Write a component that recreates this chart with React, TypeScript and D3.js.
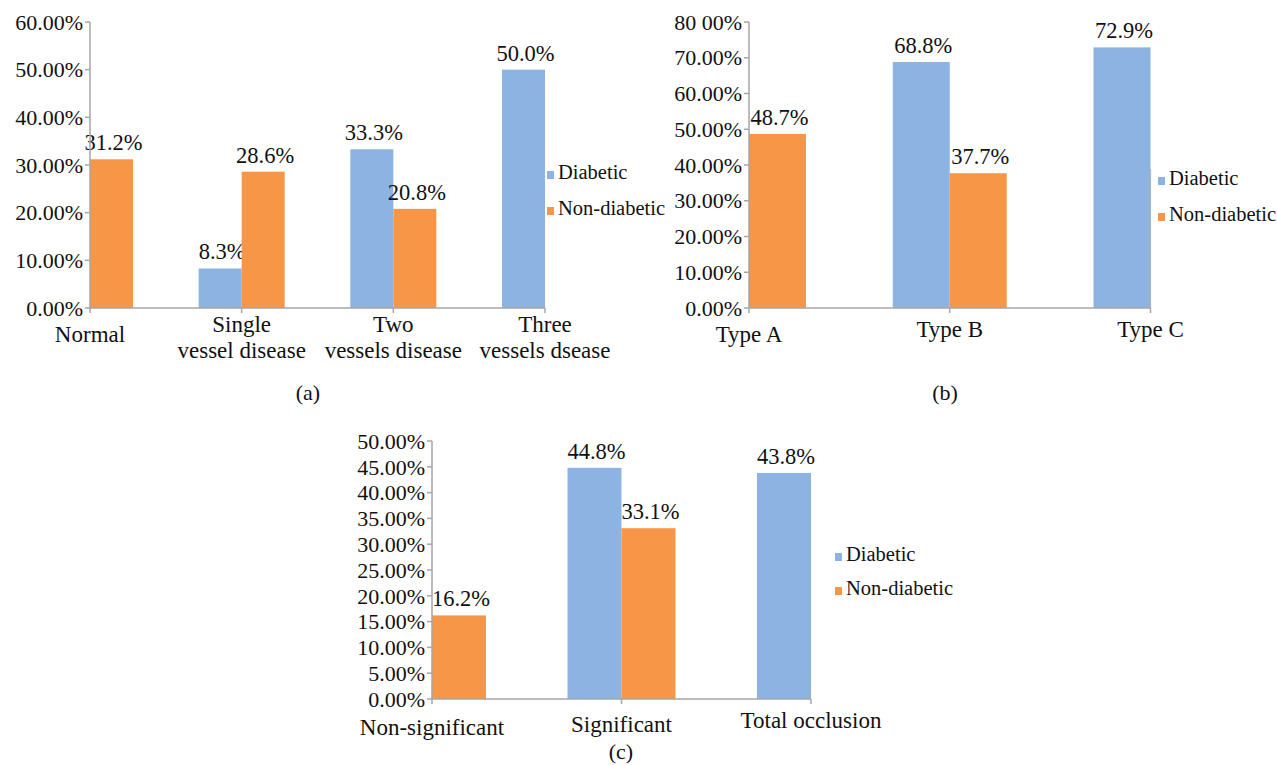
import * as d3 from "d3";

// Panel (a): coronary vessel involvement
const aCategories = [["Normal"], ["Single", "vessel disease"], ["Two", "vessels disease"], ["Three", "vessels dsease"]];
const aDiabetic = [0, 8.3, 33.3, 50.0];
const aNonDiabetic = [31.2, 28.6, 20.8, 0];
const aTickValues = [0, 10, 20, 30, 40, 50, 60];
const aTickLabels = ["0.00%", "10.00%", "20.00%", "30.00%", "40.00%", "50.00%", "60.00%"];

// Panel (b): lesion type
const bCategories = [["Type A"], ["Type B"], ["Type C"]];
const bDiabetic = [0, 68.8, 72.9];
const bNonDiabetic = [48.7, 37.7, 0];
const bTickValues = [0, 10, 20, 30, 40, 50, 60, 70, 80];
const bTickLabels = ["0.00%", "10.00%", "20.00%", "30.00%", "40.00%", "50.00%", "60.00%", "70.00%", "80 00%"];

// Panel (c): stenosis severity
const cCategories = [["Non-significant"], ["Significant"], ["Total occlusion"]];
const cDiabetic = [0, 44.8, 43.8];
const cNonDiabetic = [16.2, 33.1, 0];
const cTickValues = [0, 5, 10, 15, 20, 25, 30, 35, 40, 45, 50];
const cTickLabels = ["0.00%", "5.00%", "10.00%", "15.00%", "20.00%", "25.00%", "30.00%", "35.00%", "40.00%", "45.00%", "50.00%"];

const seriesNames = ["Diabetic", "Non-diabetic"];
const BLUE = "#8db3e2";
const ORANGE = "#f79646";
const AXIS = "#a6a6a6";
const FONT = "Liberation Serif";
const txt = { fontFamily: FONT, fill: "#111" };

interface PanelProps {
  categories: string[][];
  diabetic: number[];
  nonDiabetic: number[];
  tickValues: number[];
  tickLabels: string[];
  x0: number;
  x1: number;
  yTop: number;
  yBottom: number;
  barW: number;
  labelY: number[];
  legendX: number;
  legendY: number[];
  caption: string;
  captionX: number;
  captionY: number;
  extraLine?: number[];
}

function Panel(p: PanelProps) {
  const keys = p.categories.map((c) => c.join(" "));
  const x = d3.scalePoint<string>().domain(keys).range([p.x0, p.x1]);
  const maxV = p.tickValues[p.tickValues.length - 1];
  const y = d3.scaleLinear().domain([0, maxV]).range([p.yBottom, p.yTop]);
  const series = [
    { values: p.diabetic, color: BLUE, offset: -1 },
    { values: p.nonDiabetic, color: ORANGE, offset: 0 },
  ];
  const lh = 26;

  return (
    <g>
      {/* bars */}
      {series.map((s, si) =>
        s.values.map((v, i) => {
          if (!v) return null;
          const bx = x(keys[i])! + s.offset * p.barW;
          return (
            <g key={`${si}-${i}`}>
              <rect x={bx} y={y(v)} width={p.barW} height={p.yBottom - y(v)} fill={s.color} />
              <text style={txt} x={bx + p.barW / 2 + 2} y={y(v) - 9} textAnchor="middle" fontSize={22.5}>
                {v.toFixed(1)}%
              </text>
            </g>
          );
        })
      )}
      {p.extraLine && (
        <line x1={p.x1} x2={p.x1} y1={p.extraLine[0]} y2={p.extraLine[1]} stroke="#b5b5b5" strokeWidth={1.2} />
      )}
      {/* y axis */}
      <line x1={p.x0} x2={p.x0} y1={p.yTop} y2={p.yBottom} stroke={AXIS} strokeWidth={1.5} />
      {p.tickValues.map((t, i) => (
        <g key={t}>
          <line x1={p.x0 - 5} x2={p.x0} y1={y(t)} y2={y(t)} stroke={AXIS} strokeWidth={1.5} />
          <text style={txt} x={p.x0 - 7} y={y(t)} dy="0.35em" textAnchor="end" fontSize={22}>
            {p.tickLabels[i]}
          </text>
        </g>
      ))}
      {/* x axis */}
      <line x1={p.x0} x2={p.x1} y1={p.yBottom} y2={p.yBottom} stroke={AXIS} strokeWidth={1.5} />
      {keys.map((k, i) => (
        <g key={k}>
          <line x1={x(k)} x2={x(k)} y1={p.yBottom} y2={p.yBottom + 5} stroke={AXIS} strokeWidth={1.5} />
          {p.categories[i].map((line, li) => (
            <text
              key={li}
              style={txt}
              x={x(k)}
              y={p.labelY[i] - ((p.categories[i].length - 1) * lh) / 2 + li * lh}
              textAnchor="middle"
              fontSize={23}
            >
              {line}
            </text>
          ))}
        </g>
      ))}
      {/* legend */}
      {seriesNames.map((name, i) => (
        <g key={name}>
          <rect x={p.legendX} y={p.legendY[i]} width={7} height={8} fill={series[i].color} />
          <text style={txt} x={p.legendX + 11} y={p.legendY[i] + 8} fontSize={20.5}>
            {name}
          </text>
        </g>
      ))}
      <text style={txt} x={p.captionX} y={p.captionY} textAnchor="middle" fontSize={22}>
        {p.caption}
      </text>
    </g>
  );
}

export default function App() {
  return (
    <svg
      width={1277}
      height={765}
      style={{ position: "absolute", left: 0, top: 0, background: "#fff", fontFamily: FONT }}
    >
      <rect width={1277} height={765} fill="#fff" />
      <Panel
        categories={aCategories}
        diabetic={aDiabetic}
        nonDiabetic={aNonDiabetic}
        tickValues={aTickValues}
        tickLabels={aTickLabels}
        x0={90}
        x1={545}
        yTop={22}
        yBottom={308}
        barW={43}
        labelY={[342, 345, 345, 345]}
        legendX={547}
        legendY={[171, 207]}
        caption="(a)"
        captionX={308}
        captionY={400}
      />
      <Panel
        categories={bCategories}
        diabetic={bDiabetic}
        nonDiabetic={bNonDiabetic}
        tickValues={bTickValues}
        tickLabels={bTickLabels}
        x0={749}
        x1={1150.5}
        yTop={22}
        yBottom={308}
        barW={57}
        labelY={[342, 337, 337]}
        legendX={1158}
        legendY={[177, 213]}
        caption="(b)"
        captionX={945}
        captionY={400}
        extraLine={[169, 308]}
      />
      <Panel
        categories={cCategories}
        diabetic={cDiabetic}
        nonDiabetic={cNonDiabetic}
        tickValues={cTickValues}
        tickLabels={cTickLabels}
        x0={432}
        x1={811}
        yTop={441}
        yBottom={699}
        barW={54}
        labelY={[735, 732, 728]}
        legendX={835}
        legendY={[553, 587]}
        caption="(c)"
        captionX={621}
        captionY={759}
      />
    </svg>
  );
}
